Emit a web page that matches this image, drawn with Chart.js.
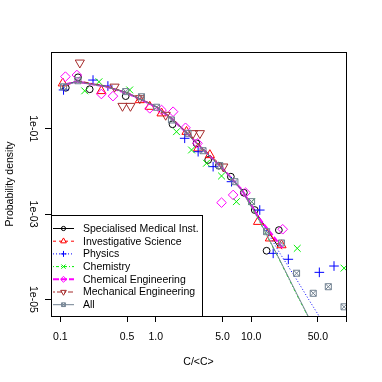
<!DOCTYPE html>
<html><head><meta charset="utf-8">
<script src="https://cdn.jsdelivr.net/npm/chart.js@4.4.1/dist/chart.umd.min.js"></script>
<style>html,body{margin:0;padding:0;background:#fff}</style>
</head><body>
<canvas id="c" width="382" height="382"></canvas>
<script>
// ---------- data ----------
const seriesNames = ["Specialised Medical Inst.", "Investigative Science", "Physics", "Chemistry",
  "Chemical Engineering", "Mechanical Engineering", "All"];

// observed points
const medX = [0.114, 0.153, 0.203, 0.484, 1.50, 2.67, 3.54, 4.58, 6.12, 8.38, 10.9, 14.5, 19.5];
const medY = [0.91, 1.60, 0.84, 0.58, 0.127, 0.0455, 0.0185, 0.0136, 0.0075, 0.00316, 0.00124, 1.38e-4, 4.2e-4];
const invX = [0.106, 0.269, 0.68, 0.865, 1.15, 2.10, 2.78, 3.69, 11.8, 15.7, 20.8];
const invY = [1.16, 0.766, 0.47, 0.328, 0.23, 0.085, 0.0347, 0.0242, 6.6e-4, 2.7e-4, 1.87e-4];
const phyX = [0.108, 0.22, 0.315, 2.01, 2.78, 3.99, 6.22, 12.3, 17.0, 24.5, 51.8, 73.8];
const phyY = [0.81, 1.38, 1.0, 0.0596, 0.0289, 0.0129, 0.00573, 0.00124, 1.2e-4, 8.7e-5, 4.3e-5, 6.05e-5];
const cheX = [0.18, 0.254, 0.533, 1.65, 2.37, 3.40, 4.89, 7.0, 10.1, 30.4, 94];
const cheY = [0.77, 1.26, 0.81, 0.085, 0.0317, 0.0155, 0.0078, 0.00195, 0.00195, 1.57e-4, 5.4e-5];
const cenX = [0.113, 0.149, 0.269, 0.356, 0.865, 1.15, 1.52, 2.05, 2.74, 4.89, 6.47, 8.73, 21.4];
const cenY = [1.66, 1.81, 0.65, 0.58, 0.30, 0.274, 0.25, 0.105, 0.0455, 0.00185, 0.0028, 0.00316, 4.4e-4];
const mecX = [0.16, 0.37, 0.448, 0.543, 0.68, 1.27, 2.46, 2.9, 5.1];
const mecY = [3.52, 0.96, 0.34, 0.34, 0.515, 0.21, 0.078, 0.078, 0.0129];
const allX = [0.108, 0.153, 0.484, 0.708, 1.02, 1.46, 2.18, 3.13, 4.69, 6.75, 10.1, 14.5, 20.8, 29.9, 44.7, 64.3, 94];
const allY = [0.96, 1.33, 0.74, 0.56, 0.318, 0.16, 0.078, 0.0305, 0.0136, 0.00573, 0.00195, 3.86e-4, 2.1e-4, 4.1e-5, 1.39e-5, 1.98e-5, 6.7e-6];

// fitted curves
const medFitX = [0.11, 0.15, 0.3, 0.5, 1, 1.5, 2, 3, 5, 8, 12, 19.2];
const medFitY = [1.08, 1.28, 0.98, 0.70, 0.33, 0.167, 0.09, 0.036, 0.0118, 0.0037, 8.7e-4, 1.72e-4];
const invFitX = [0.105, 0.15, 0.3, 0.5, 1, 1.5, 2, 3, 5, 8, 12, 21];
const invFitY = [1.02, 1.24, 0.97, 0.69, 0.33, 0.166, 0.089, 0.036, 0.0117, 0.0036, 8.0e-4, 1.5e-4];
const phyFitX = [0.108, 0.15, 0.3, 0.5, 1, 1.5, 2, 3, 5, 8, 12, 20, 30, 40, 55];
const phyFitY = [1.04, 1.26, 0.98, 0.69, 0.32, 0.163, 0.087, 0.035, 0.0114, 0.0036, 8.3e-4, 1.2e-4, 2.9e-5, 1.0e-5, 3.2e-6];
const cheFitX = [0.18, 0.3, 0.5, 1, 1.5, 2, 3, 5, 8, 12, 20, 30, 42];
const cheFitY = [1.2, 0.97, 0.69, 0.33, 0.164, 0.087, 0.035, 0.0115, 0.0035, 7.3e-4, 8.0e-5, 1.3e-5, 3.0e-6];
const cenFitX = [0.113, 0.15, 0.3, 0.5, 1, 1.5, 2, 3, 5, 8, 12, 21.4];
const cenFitY = [1.1, 1.27, 0.97, 0.68, 0.33, 0.166, 0.089, 0.036, 0.0118, 0.0037, 8.2e-4, 1.6e-4];
const mecFitX = [0.16, 0.3, 0.5, 1, 1.5, 2, 3, 5.1];
const mecFitY = [1.3, 0.99, 0.70, 0.34, 0.17, 0.09, 0.037, 0.0125];
const allFitX = [0.105, 0.15, 0.3, 0.5, 1, 1.5, 2, 3, 5, 8, 12, 20, 30, 42];
const allFitY = [1.05, 1.25, 0.97, 0.69, 0.33, 0.165, 0.088, 0.0355, 0.0116, 0.0036, 7.5e-4, 8.3e-5, 1.36e-5, 3.1e-6];

// axis ticks
const xTickValues = [0.1, 0.5, 1, 5, 10, 50, 100];
const xTickLabels = ["0.1", "0.5", "1.0", "5.0", "10.0", "50.0", ""];
const yTickValues = [1e-1, 1e-3, 1e-5];
const yTickLabels = ["1e-01", "1e-03", "1e-05"];

// ---------- styles ----------
const FONT = '"Liberation Sans", Arial, Helvetica, sans-serif';
const FS = 10.5;
const R0 = 3.4;
const styles = [
  {color: '#000000', line: '#000000', dash: [], lw: 1, pt: 'circle', r: R0, rot: 0},
  {color: '#FF0000', line: '#FF0000', dash: [3, 3], lw: 1, pt: 'triangle', r: R0 * 1.555, rot: 0},
  {color: '#0000FF', line: '#0000FF', dash: [1, 2], lw: 1, pt: 'cross', r: R0 * 1.414, rot: 0},
  {color: '#00EE00', line: '#00EE00', dash: [1, 2, 3, 2], lw: 1, pt: 'crossRot', r: R0 * 1.414, rot: 0},
  {color: '#FF00FF', line: '#FF00FF', dash: [6, 2], lw: 2, pt: 'rectRot', r: R0 * 1.414, rot: 0},
  {color: '#A52A2A', line: '#A52A2A', dash: [2, 2, 5, 2], lw: 1, pt: 'triangle', r: R0 * 1.555, rot: 180},
  {color: '#708090', line: '#708090', dash: [], lw: 1, pt: 'rect', r: R0 * 0.886 / 0.7071, rot: 0}
];
const markerSets = [[medX, medY], [invX, invY], [phyX, phyY], [cheX, cheY], [cenX, cenY], [mecX, mecY], [allX, allY]];
const fitSets = [[medFitX, medFitY], [invFitX, invFitY], [phyFitX, phyFitY], [cheFitX, cheFitY], [cenFitX, cenFitY], [mecFitX, mecFitY], [allFitX, allFitY]];

const toPts = (xs, ys) => xs.map((x, i) => ({x: x, y: ys[i]}));

// R draws series in order, later ones on top; in Chart.js lower `order` is drawn on top
const datasets = [];
fitSets.forEach((s, i) => {
  const st = styles[i];
  datasets.push({
    label: seriesNames[i] + ' fit', data: toPts(s[0], s[1]), showLine: true,
    borderColor: st.line, borderWidth: st.lw, borderDash: st.dash, pointRadius: 0,
    fill: false, tension: 0, clip: 0, order: 20 - 2 * i
  });
});
markerSets.forEach((s, i) => {
  const st = styles[i];
  datasets.push({
    label: seriesNames[i], data: toPts(s[0], s[1]), showLine: false,
    pointStyle: st.pt, pointRadius: st.r, pointRotation: st.rot,
    pointBorderColor: st.color, pointBackgroundColor: 'rgba(0,0,0,0)', pointBorderWidth: 1,
    borderColor: st.color, backgroundColor: 'rgba(0,0,0,0)', order: 21 - 2 * i
  });
});
// the "All" marker is a square with a cross inside
datasets.push({
  label: 'All (cross)', data: toPts(allX, allY), showLine: false,
  pointStyle: 'crossRot', pointRadius: styles[6].r, pointBorderColor: styles[6].color,
  pointBorderWidth: 1, borderColor: styles[6].color, backgroundColor: 'rgba(0,0,0,0)', order: 9
});

// ---------- helpers for legend markers ----------
function drawMarker(ctx, style, r, rot, x, y) {
  ctx.beginPath();
  const rad = rot * Math.PI / 180;
  if (style === 'circle') {
    ctx.arc(x, y, r, 0, Math.PI * 2);
  } else if (style === 'triangle') {
    let a = rad;
    ctx.moveTo(x + Math.sin(a) * r, y - Math.cos(a) * r);
    a += 2 * Math.PI / 3;
    ctx.lineTo(x + Math.sin(a) * r, y - Math.cos(a) * r);
    a += 2 * Math.PI / 3;
    ctx.lineTo(x + Math.sin(a) * r, y - Math.cos(a) * r);
    ctx.closePath();
  } else if (style === 'cross') {
    ctx.moveTo(x - r, y); ctx.lineTo(x + r, y);
    ctx.moveTo(x, y - r); ctx.lineTo(x, y + r);
  } else if (style === 'crossRot') {
    const o = r * Math.SQRT1_2;
    ctx.moveTo(x - o, y - o); ctx.lineTo(x + o, y + o);
    ctx.moveTo(x + o, y - o); ctx.lineTo(x - o, y + o);
  } else if (style === 'rectRot') {
    ctx.moveTo(x - r, y); ctx.lineTo(x, y - r); ctx.lineTo(x + r, y); ctx.lineTo(x, y + r); ctx.closePath();
  } else if (style === 'rect') {
    const o = r * Math.SQRT1_2;
    ctx.rect(x - o, y - o, 2 * o, 2 * o);
    ctx.moveTo(x - o, y - o); ctx.lineTo(x + o, y + o);
    ctx.moveTo(x + o, y - o); ctx.lineTo(x - o, y + o);
  }
  ctx.stroke();
}

const framePlugin = {
  id: 'frameAndLegend',
  afterDraw(chart) {
    const ctx = chart.ctx, ca = chart.chartArea;
    ctx.save();
    // legend box
    const bx = Math.round(ca.left) + 0.5, by = 215.5;
    const bw = 151, bh = Math.round(ca.bottom) - 215;
    ctx.fillStyle = '#ffffff';
    ctx.fillRect(bx, by, bw, bh);
    ctx.strokeStyle = '#000000'; ctx.lineWidth = 1; ctx.setLineDash([]);
    ctx.strokeRect(bx, by, bw, bh);
    ctx.font = FS + 'px ' + FONT;
    ctx.textBaseline = 'middle'; ctx.textAlign = 'left';
    for (let i = 0; i < seriesNames.length; i++) {
      const st = styles[i];
      const y = 228.5 + i * 12.7;
      ctx.strokeStyle = st.line; ctx.lineWidth = st.lw;
      ctx.setLineDash(st.dash);
      ctx.beginPath(); ctx.moveTo(53, y); ctx.lineTo(74, y); ctx.stroke();
      ctx.setLineDash([]);
      ctx.lineWidth = 1; ctx.strokeStyle = st.color;
      drawMarker(ctx, st.pt, st.r * 0.62, st.rot, 63.5, y);
      ctx.fillStyle = '#000000';
      ctx.fillText(seriesNames[i], 83, y + 0.5);
    }
    // plot frame
    ctx.strokeStyle = '#000000'; ctx.lineWidth = 1; ctx.setLineDash([]);
    ctx.strokeRect(Math.round(ca.left) + 0.5, Math.round(ca.top) + 0.5,
      Math.round(ca.right) - Math.round(ca.left), Math.round(ca.bottom) - Math.round(ca.top));
    ctx.restore();
  }
};

Chart.defaults.font.family = FONT;
Chart.defaults.font.size = FS;
Chart.defaults.color = '#000000';

new Chart(document.getElementById('c'), {
  type: 'scatter',
  data: {datasets: datasets},
  options: {
    responsive: false, animation: false, devicePixelRatio: 1,
    layout: {padding: {top: 52, right: 36, left: 0, bottom: 0}},
    plugins: {legend: {display: false}, tooltip: {enabled: false}},
    scales: {
      x: {
        type: 'logarithmic', position: 'bottom',
        min: 0.0798, max: 98.56,
        afterBuildTicks: (scale) => { scale.ticks = xTickValues.map(v => ({value: v})); },
        afterFit: (scale) => { scale.height = 66; },
        ticks: {
          autoSkip: false, maxRotation: 0, minRotation: 0, padding: 8.4, color: '#000',
          font: {size: FS, family: FONT},
          callback: (v, i) => xTickLabels[i]
        },
        grid: {display: true, drawOnChartArea: false, drawTicks: true, tickLength: 6, color: '#000', lineWidth: 1},
        border: {display: true, color: '#000', width: 1},
        title: {display: true, text: 'C/<C>', color: '#000', font: {size: FS, family: FONT}, padding: {top: 0, bottom: 14}}
      },
      y: {
        type: 'logarithmic', position: 'left',
        min: 4.08e-6, max: 6.27,
        afterBuildTicks: (scale) => { scale.ticks = yTickValues.map(v => ({value: v})); },
        afterFit: (scale) => { scale.width = 51; },
        ticks: {
          autoSkip: false, minRotation: -90, maxRotation: -90, crossAlign: 'center', padding: -1, color: '#000',
          font: {size: FS, family: FONT},
          callback: (v, i) => yTickLabels[i]
        },
        grid: {display: true, drawOnChartArea: false, drawTicks: true, tickLength: 6, color: '#000', lineWidth: 1},
        border: {display: true, color: '#000', width: 1},
        title: {display: true, text: 'Probability density', color: '#000', font: {size: FS, family: FONT}, padding: {top: 3.7, bottom: 0}}
      }
    }
  },
  plugins: [framePlugin]
});
</script>
</body></html>
